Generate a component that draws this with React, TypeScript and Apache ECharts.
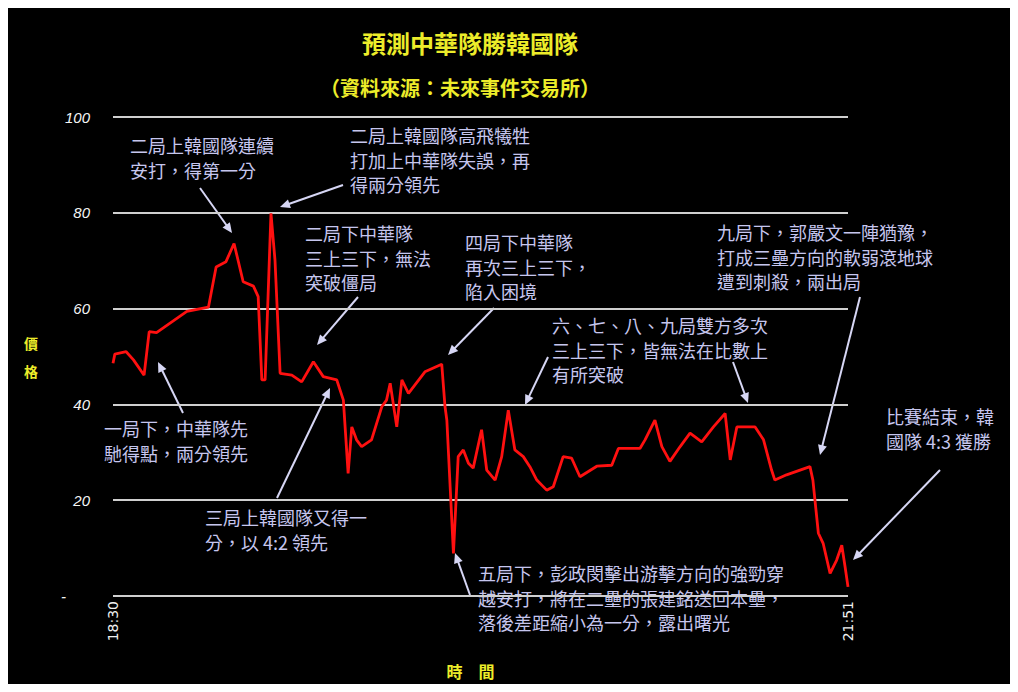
import React, { useEffect, useRef } from "react";
import * as echarts from "echarts";

// ---- data (minutes after 18:30, market price) ----
const timeMinutes = [
  0, 0.5, 3.6, 5.6, 8.5, 9.9, 11.9, 20.2, 26.1, 28.2, 30.9, 33.1, 35.6, 38.4, 39.7,
  40.7, 41.6, 43.2, 44.3, 45.7, 48.9, 51.6, 54.8, 57.5, 61.2, 63, 64.3, 65.3, 66.6, 68,
  70.7, 73.5, 74.8, 75.8, 77.6, 79, 80.8, 85.3, 89.9, 90.8, 91.3, 93.1, 94.4, 95.8, 97.2,
  98.5, 100.8, 102.2, 104.5, 106.3, 108.1, 109.9, 112.2, 114, 115.9, 118.6, 120.4, 123.1,
  125.4, 127.7, 132.3, 136.4, 138.2, 144.1, 145.5, 148.2, 150.1, 152.3, 155.1, 157.8, 161,
  164.2, 167.4, 168.8, 170.6, 175.6, 177.9, 180.1, 181, 184.2, 190.6, 191.4, 192.9, 194.2,
  196.1, 197.9, 199.3, 200.2, 201,
];
const prices = [
  48.6, 50.5, 51, 49.3, 46.1, 55.2, 55, 59.4, 60.3, 68.7, 69.8, 73.6, 65.6, 64.7, 62.5,
  45.1, 45.1, 79.9, 70.1, 46.5, 46.1, 44.7, 48.9, 45.8, 45.1, 40.9, 25.6, 35.3, 32.6, 31.2,
  32.6, 39.5, 40.9, 44.4, 35.3, 45.1, 42.3, 46.8, 48.4, 39.5, 36.7, 8.9, 29.1, 30.5, 27.7,
  26.7, 34.7, 26.3, 24.2, 29.1, 38.8, 30.5, 29.1, 27, 24.2, 22.1, 22.8, 29.1, 28.8, 24.9,
  27.1, 27.3, 30.8, 30.8, 32.6, 36.7, 31.2, 28.1, 31.2, 34, 32.2, 35.3, 38.1, 28.4, 35.3,
  35.3, 32.6, 26.3, 24.2, 25.3, 27, 24.2, 13.1, 11, 4.7, 7.5, 10.6, 6.1, 1.9,
];
const xTickLabels = ["18:30", "21:51"];
const yTickLabels = ["-", "20", "40", "60", "80", "100"];

const titleText = "預測中華隊勝韓國隊";
const subtitleText = "（資料來源：未來事件交易所）";
const xAxisName = "時　間";
const yAxisName = "價\n格";

// ---- annotations (page layout) ----
const annotationTexts = [
  "二局上韓國隊連續\n安打，得第一分",
  "二局上韓國隊高飛犧牲\n打加上中華隊失誤，再\n得兩分領先",
  "二局下中華隊\n三上三下，無法\n突破僵局",
  "四局下中華隊\n再次三上三下，\n陷入困境",
  "六、七、八、九局雙方多次\n三上三下，皆無法在比數上\n有所突破",
  "九局下，郭嚴文一陣猶豫，\n打成三壘方向的軟弱滾地球\n遭到刺殺，兩出局",
  "比賽結束，韓\n國隊 4:3 獲勝",
  "一局下，中華隊先\n馳得點，兩分領先",
  "三局上韓國隊又得一\n分，以 4:2 領先",
  "五局下，彭政閔擊出游擊方向的強勁穿\n越安打，將在二壘的張建銘送回本壘，\n落後差距縮小為一分，露出曙光",
];
const annotationPos = [
  [130, 133], [350, 123], [305, 221], [465, 230], [552, 313],
  [717, 220], [886, 404], [104, 416], [205, 505], [478, 561],
];
const arrows = [
  [200, 188, 232, 233],
  [343, 185, 280, 207],
  [358, 297, 317, 345],
  [494, 308, 448, 355],
  [548, 357, 525, 405],
  [733, 362, 748, 403],
  [860, 297, 820, 455],
  [940, 470, 853, 560],
  [183, 413, 158, 362],
  [277, 498, 330, 388],
  [470, 595, 455, 553],
];

const OFF = 8;
const CJK = '"Noto Sans CJK TC", "Noto Sans CJK SC", sans-serif';
const ANN_COLOR = "#c6c6ee";
const ARROW_COLOR = "#d6d6f4";

function buildGraphics() {
  const g: any[] = [];
  annotationTexts.forEach((t, i) => {
    g.push({
      type: "text",
      x: annotationPos[i][0] - OFF,
      y: annotationPos[i][1] - OFF,
      silent: true,
      style: {
        text: t,
        fill: ANN_COLOR,
        font: `18px ${CJK}`,
        lineHeight: 24.5,
        textVerticalAlign: "top",
      },
    });
  });
  arrows.forEach(([x1, y1, x2, y2]) => {
    const dx = x2 - x1;
    const dy = y2 - y1;
    const len = Math.sqrt(dx * dx + dy * dy);
    const ux = dx / len;
    const uy = dy / len;
    const L = 10;
    const W = 4.5;
    const bx = x2 - ux * L;
    const by = y2 - uy * L;
    g.push({
      type: "line",
      silent: true,
      shape: { x1: x1 - OFF, y1: y1 - OFF, x2: bx + ux * 3 - OFF, y2: by + uy * 3 - OFF },
      style: { stroke: ARROW_COLOR, lineWidth: 2 },
    });
    g.push({
      type: "polygon",
      silent: true,
      shape: {
        points: [
          [x2 - OFF, y2 - OFF],
          [bx - uy * W - OFF, by + ux * W - OFF],
          [bx + uy * W - OFF, by - ux * W - OFF],
        ],
      },
      style: { fill: ARROW_COLOR },
    });
  });
  return g;
}

export default function App() {
  const ref = useRef<HTMLDivElement>(null);
  useEffect(() => {
    if (!ref.current) return;
    const chart = echarts.init(ref.current, null, { renderer: "svg" });
    const data = timeMinutes.map((t, i) => [t, prices[i]]);
    chart.setOption({
      animation: false,
      backgroundColor: "#000000",
      title: [
        {
          text: titleText,
          left: 457,
          top: 17,
          textAlign: "center",
          textStyle: { color: "#ecec2a", fontSize: 24, fontWeight: "bold", fontFamily: CJK },
        },
        {
          text: subtitleText,
          left: 447,
          top: 64,
          textAlign: "center",
          textStyle: { color: "#ecec2a", fontSize: 20, fontWeight: "bold", fontFamily: CJK },
        },
      ],
      grid: { left: 105, right: 162, top: 109, bottom: 88 },
      xAxis: {
        type: "value",
        min: 0,
        max: 201,
        interval: 201,
        name: xAxisName,
        nameLocation: "middle",
        nameGap: 67,
        nameTextStyle: {
          color: "#ecec2a",
          fontSize: 16,
          fontWeight: "bold",
          fontFamily: CJK,
          padding: [0, 20, 0, 0],
        },
        axisLine: { show: false },
        axisTick: { show: false },
        splitLine: { show: false },
        axisLabel: {
          rotate: 90,
          margin: 5,
          color: "#f0f0f0",
          fontSize: 14,
          fontFamily: "DejaVu Sans, sans-serif",
          formatter: (v: number) => (v === 0 ? xTickLabels[0] : v === 201 ? xTickLabels[1] : ""),
        },
      },
      yAxis: {
        type: "value",
        min: 0,
        max: 100,
        interval: 20,
        name: yAxisName,
        nameLocation: "middle",
        nameRotate: 0,
        nameGap: 75,
        nameTextStyle: {
          color: "#ecec2a",
          fontSize: 14,
          fontWeight: "bold",
          fontFamily: CJK,
          lineHeight: 28,
          padding: [0, 0, 6, 0],
        },
        axisLine: { show: false },
        axisTick: { show: false },
        splitLine: { show: true, lineStyle: { color: "#cfcfcf", width: 2 } },
        axisLabel: {
          margin: 23,
          color: "#f4f4f4",
          fontSize: 15,
          fontStyle: "italic",
          fontFamily: "Liberation Sans, sans-serif",
          formatter: (v: number) => {
            const idx = Math.round(v / 20);
            return idx === 0 ? "{d|" + yTickLabels[0] + "}" : yTickLabels[idx];
          },
          rich: { d: { padding: [0, 24, 0, 0], color: "#f4f4f4", fontSize: 15 } },
        },
      },
      series: [
        {
          type: "line",
          data,
          showSymbol: false,
          clip: false,
          lineStyle: { color: "#ff1010", width: 2.8 },
        },
      ],
      graphic: buildGraphics(),
    });
    return () => chart.dispose();
  }, []);
  return <div ref={ref} style={{ width: 1002, height: 676 }} />;
}
